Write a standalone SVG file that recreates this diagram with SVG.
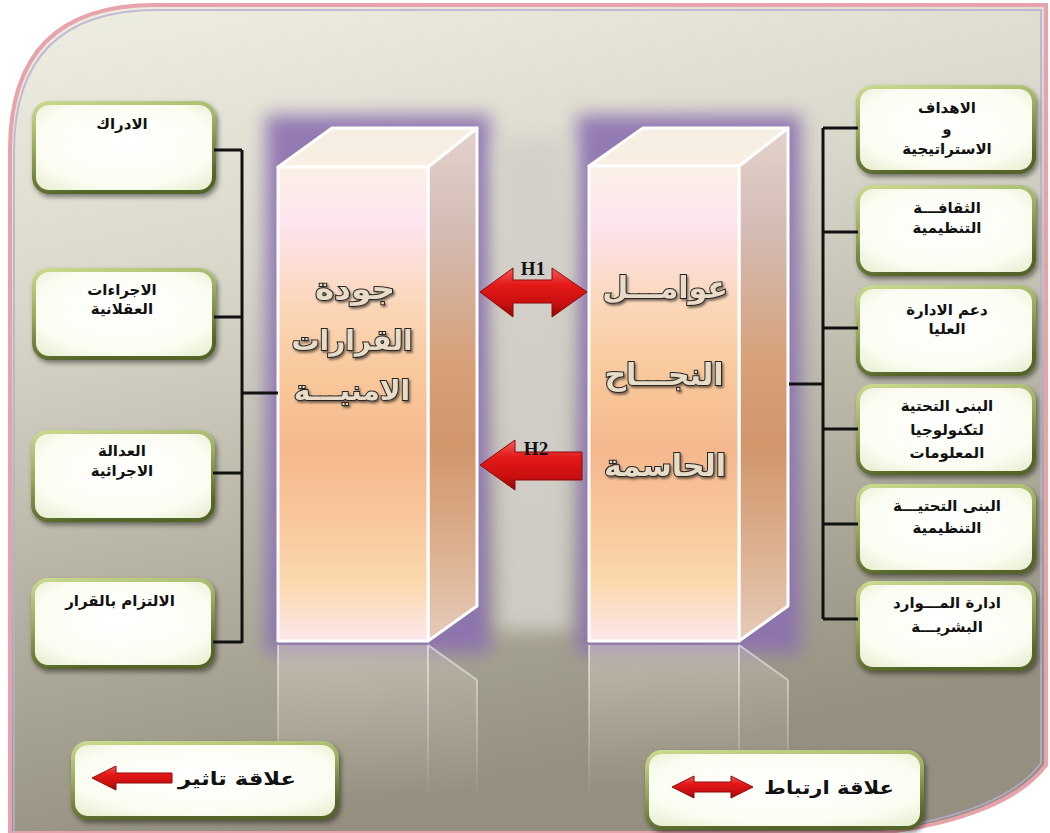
<svg xmlns="http://www.w3.org/2000/svg" width="1050" height="833" viewBox="0 0 1050 833">
<defs>
<style>
.bx{fill:url(#boxFill);stroke:url(#boxStroke);stroke-width:4;filter:url(#shadow)}
.bt{font-family:"DejaVu Sans",sans-serif;font-weight:bold;font-size:15px;fill:#111;text-anchor:middle}
.lt{font-family:"DejaVu Sans",sans-serif;font-weight:bold;font-size:18px;fill:#111;text-anchor:middle}
.pt{font-family:"DejaVu Sans",sans-serif;font-weight:bold;font-size:30px;text-anchor:middle;fill:#e8dcc8;stroke:#262626;stroke-width:2;paint-order:stroke}
.hl{font-family:"Liberation Serif",serif;font-weight:bold;font-size:19px;fill:#111;text-anchor:middle}
.ln{stroke:#111;stroke-width:3;fill:none}
.face{stroke:#fff;stroke-width:3;stroke-linejoin:round}
.arr{fill:url(#red);stroke:#8c0b0b;stroke-width:1}
.refl{stroke-width:2;fill:none}
</style>
<linearGradient id="bg" x1="0" y1="0" x2="0.25" y2="1">
<stop offset="0" stop-color="#efeee2"/>
<stop offset="0.35" stop-color="#d9d7ca"/>
<stop offset="0.7" stop-color="#b3b0a1"/>
<stop offset="1" stop-color="#948f7e"/>
</linearGradient>
<radialGradient id="boxFill" cx="0.5" cy="0.45" r="0.7">
<stop offset="0" stop-color="#ffffff"/>
<stop offset="0.7" stop-color="#fbfdf2"/>
<stop offset="1" stop-color="#e8edcf"/>
</radialGradient>
<linearGradient id="boxStroke" x1="0" y1="0" x2="0.3" y2="1">
<stop offset="0" stop-color="#c9da8f"/>
<stop offset="0.5" stop-color="#96a85a"/>
<stop offset="1" stop-color="#55652a"/>
</linearGradient>
<linearGradient id="front" x1="0" y1="0" x2="0" y2="1">
<stop offset="0" stop-color="#fbf0e6"/>
<stop offset="0.12" stop-color="#fde4ee"/>
<stop offset="0.3" stop-color="#fbd6b6"/>
<stop offset="0.45" stop-color="#f8c79a"/>
<stop offset="0.6" stop-color="#f5b88e"/>
<stop offset="0.75" stop-color="#f9c89e"/>
<stop offset="0.88" stop-color="#fbd8ae"/>
<stop offset="1" stop-color="#fde8ec"/>
</linearGradient>
<linearGradient id="side" x1="0" y1="0" x2="0" y2="1">
<stop offset="0" stop-color="#e3d2cc"/>
<stop offset="0.2" stop-color="#d4bcb4"/>
<stop offset="0.45" stop-color="#d7a17a"/>
<stop offset="0.62" stop-color="#d1966c"/>
<stop offset="0.82" stop-color="#dcb08e"/>
<stop offset="1" stop-color="#e6cbbb"/>
</linearGradient>
<linearGradient id="top" x1="0" y1="0" x2="0" y2="1">
<stop offset="0" stop-color="#f6eee4"/>
<stop offset="1" stop-color="#f9efe2"/>
</linearGradient>
<linearGradient id="red" x1="0" y1="0" x2="0" y2="1">
<stop offset="0" stop-color="#f45a5a"/>
<stop offset="0.35" stop-color="#e41818"/>
<stop offset="0.75" stop-color="#c80e0e"/>
<stop offset="1" stop-color="#8e0606"/>
</linearGradient>
<linearGradient id="reflFill" x1="0" y1="0" x2="0" y2="1">
<stop offset="0" stop-color="#d8cfc6" stop-opacity="0.5"/>
<stop offset="1" stop-color="#d8cfc6" stop-opacity="0"/>
</linearGradient>
<linearGradient id="reflLine" gradientUnits="userSpaceOnUse" x1="0" y1="645" x2="0" y2="800">
<stop offset="0" stop-color="#fff" stop-opacity="0.55"/>
<stop offset="1" stop-color="#fff" stop-opacity="0"/>
</linearGradient>
<filter id="shadow" x="-10%" y="-10%" width="125%" height="130%">
<feDropShadow dx="2" dy="3" stdDeviation="2.5" flood-color="#000" flood-opacity="0.45"/>
</filter>
<filter id="glow" x="-30%" y="-20%" width="160%" height="140%">
<feGaussianBlur stdDeviation="9"/>
</filter>
<filter id="tshadow" x="-10%" y="-10%" width="120%" height="130%">
<feDropShadow dx="1.5" dy="2" stdDeviation="1" flood-color="#000" flood-opacity="0.5"/>
</filter>
</defs>

<rect width="1050" height="833" fill="#ffffff"/>
<g id="background">
<path d="M10,833 L10,150 Q10,5 155,5 L1046,5 L1046,765 C1020,800 960,824 880,833 Z" fill="url(#bg)" stroke="#e7a3ab" stroke-width="4"/>
<path d="M14,833 L14,152 Q14,10 157,10 L1041,10 L1041,763 C1016,797 958,820 880,829" fill="none" stroke="#b9acd4" stroke-width="2" opacity="0.8"/>
</g>

<g id="glows">
<rect x="266" y="115" width="224" height="538" fill="#8b70b0" filter="url(#glow)" opacity="0.9"/>
<rect x="577" y="115" width="224" height="538" fill="#8b70b0" filter="url(#glow)" opacity="0.9"/>
<rect x="498" y="140" width="72" height="490" fill="#d2d0c9" filter="url(#glow)" opacity="0.9"/>
</g>

<g id="reflections">
<rect x="278" y="645" width="150" height="150" fill="url(#reflFill)"/>
<polygon points="428,645 477,680 477,795 428,795" fill="url(#reflFill)" opacity="0.7"/>
<path class="refl" d="M278,645 V800 M428,645 V800 M477,680 V800 M428,645 L477,680" stroke="url(#reflLine)"/>
<rect x="589" y="645" width="150" height="150" fill="url(#reflFill)"/>
<polygon points="739,645 788,680 788,795 739,795" fill="url(#reflFill)" opacity="0.7"/>
<path class="refl" d="M589,645 V800 M739,645 V800 M788,680 V800 M739,645 L788,680" stroke="url(#reflLine)"/>
</g>

<g id="pillar-left">
<polygon class="face" points="428,167 477,128 477,606 428,641" fill="url(#side)"/>
<polygon class="face" points="278,167 332,128 477,128 428,167" fill="url(#top)"/>
<rect class="face" x="278" y="167" width="150" height="474" fill="url(#front)"/>
<g filter="url(#tshadow)">
<text class="pt" x="355" y="299" font-size="30" textLength="80" lengthAdjust="spacingAndGlyphs">جودة</text>
<text class="pt" x="352" y="350" style="font-size:28px">القرارات</text>
<text class="pt" x="352" y="400" style="font-size:28px">الامنيـــة</text>
</g>
</g>

<g id="pillar-right">
<polygon class="face" points="739,166 788,128 788,606 739,641" fill="url(#side)"/>
<polygon class="face" points="589,166 643,128 788,128 739,166" fill="url(#top)"/>
<rect class="face" x="589" y="166" width="150" height="475" fill="url(#front)"/>
<g filter="url(#tshadow)">
<text class="pt" x="665" y="298">عوامـــل</text>
<text class="pt" x="664" y="385">النجـــاح</text>
<text class="pt" x="665" y="476">الحاسمة</text>
</g>
</g>

<g id="box-l1"><rect class="bx" x="34" y="103" width="180" height="89" rx="15"/><text class="bt" x="122" y="129">الادراك</text></g>
<g id="box-l2"><rect class="bx" x="34" y="270" width="180" height="88" rx="15"/><text class="bt" x="122" y="295">الاجراءات</text><text class="bt" x="122" y="314">العقلانية</text></g>
<g id="box-l3"><rect class="bx" x="33" y="432" width="180" height="88" rx="15"/><text class="bt" x="122" y="456">العدالة</text><text class="bt" x="122" y="476">الاجرائية</text></g>
<g id="box-l4"><rect class="bx" x="33" y="580" width="180" height="87" rx="15"/><text class="bt" x="120" y="606">الالتزام بالقرار</text></g>

<g id="box-r1"><rect class="bx" x="858" y="87" width="176" height="85" rx="15"/><text class="bt" x="947" y="113">الاهداف</text><text class="bt" x="947" y="134">و</text><text class="bt" x="947" y="154">الاستراتيجية</text></g>
<g id="box-r2"><rect class="bx" x="858" y="187" width="176" height="87" rx="15"/><text class="bt" x="947" y="213">الثقافـــة</text><text class="bt" x="947" y="233">التنظيمية</text></g>
<g id="box-r3"><rect class="bx" x="858" y="287" width="176" height="87" rx="15"/><text class="bt" x="947" y="315">دعم الادارة</text><text class="bt" x="947" y="334">العليا</text></g>
<g id="box-r4"><rect class="bx" x="858" y="386" width="176" height="87" rx="15"/><text class="bt" x="947" y="411">البنى التحتية</text><text class="bt" x="947" y="435">لتكنولوجيا</text><text class="bt" x="947" y="458">المعلومات</text></g>
<g id="box-r5"><rect class="bx" x="858" y="486" width="176" height="86" rx="15"/><text class="bt" x="947" y="511">البنى التحتيـــة</text><text class="bt" x="947" y="533">التنظيمية</text></g>
<g id="box-r6"><rect class="bx" x="858" y="583" width="176" height="86" rx="15"/><text class="bt" x="947" y="608">ادارة المـــوارد</text><text class="bt" x="947" y="632">البشريـــة</text></g>

<g id="legend-effect">
<rect class="bx" x="73" y="743" width="264" height="75" rx="15"/>
<polygon class="arr" points="92,778 116,766 116,773 172,773 172,783 116,783 116,790"/>
<text class="lt" x="237" y="785" textLength="118" lengthAdjust="spacingAndGlyphs">علاقة تاثير</text>
</g>
<g id="legend-correlation">
<rect class="bx" x="647" y="752" width="275" height="76" rx="15"/>
<polygon class="arr" points="672,787 694,776 694,782 731,782 731,776 753,787 731,798 731,792 694,792 694,798"/>
<text class="lt" x="829" y="794" textLength="130" lengthAdjust="spacingAndGlyphs">علاقة ارتباط</text>
</g>

<g id="connectors">
<path class="ln" d="M242,150 V643 M214,150 H242 M214,317 H242 M213,473 H242 M213,642 H242 M242,393 H278"/>
<path class="ln" d="M823,128 V619 M823,128 H858 M823,232 H858 M823,328 H858 M823,429 H858 M823,524 H858 M823,619 H858 M789,384 H823"/>
<g id="H1">
<polygon class="arr" points="480,292 513,268 513,280 552,280 552,268 587,292 552,317 552,303 513,303 513,317"/>
<text class="hl" x="533" y="275">H1</text>
</g>
<g id="H2">
<polygon class="arr" points="480,465 515,440 515,452 582,452 582,480 515,480 515,490"/>
<text class="hl" x="536" y="455">H2</text>
</g>
</g>
</svg>
